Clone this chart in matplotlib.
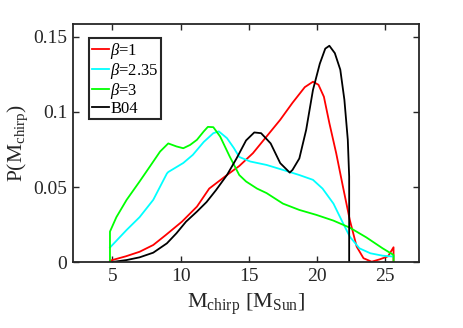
import matplotlib
matplotlib.use("Agg")
import matplotlib.pyplot as plt
import numpy as np

plt.rcParams['font.family'] = ['Liberation Serif', 'DejaVu Serif']
plt.rcParams['mathtext.fontset'] = 'custom'
plt.rcParams['mathtext.rm'] = 'Liberation Serif'
plt.rcParams['mathtext.it'] = 'Liberation Serif:italic'

labels = [r'$\beta$=1', r'$\beta$=2.35', r'$\beta$=3', 'B04']
colors = ['#ff0000', '#00ffff', '#00ff00', '#000000']

red_x = [4.83, 5.0, 6.0, 7.0, 8.0, 8.9, 10.1, 11.2, 12.1, 13.4, 14.3, 15.3, 16.3, 17.3,
         18.2, 19.1, 19.7, 20.1, 20.5, 20.9, 21.4, 21.9, 22.4, 22.9, 23.4, 24.0, 24.6,
         25.2, 25.6, 25.6]
red_y = [0.001, 0.0015, 0.004, 0.007, 0.0115, 0.018, 0.027, 0.037, 0.049, 0.058, 0.064,
         0.0725, 0.0836, 0.0947, 0.106, 0.1164, 0.120, 0.118, 0.110, 0.0925, 0.0725, 0.050,
         0.028, 0.0104, 0.0027, 0.0004, 0.002, 0.004, 0.010, 0.0]

cyan_x = [4.83, 6.05, 7.0, 8.0, 9.0, 9.1, 10.2, 10.9, 11.7, 12.4, 12.8, 13.4, 13.9, 14.3,
          15.1, 16.3, 17.5, 18.7, 19.7, 20.4, 21.2, 21.9, 22.4, 23.1, 23.9, 24.8, 25.6]
cyan_y = [0.0098, 0.0215, 0.030, 0.0415, 0.059, 0.060, 0.066, 0.0714, 0.080, 0.0858, 0.087,
          0.0825, 0.076, 0.070, 0.067, 0.0647, 0.0614, 0.058, 0.0548, 0.049, 0.039, 0.026,
          0.017, 0.0093, 0.006, 0.0044, 0.0038]

green_x = [4.83, 4.83, 5.3, 6.05, 7.0, 7.75, 8.5, 9.1, 9.7, 10.2, 10.7, 11.2, 11.7, 12.0,
           12.4, 12.9, 13.6, 14.3, 14.8, 15.6, 16.3, 17.5, 18.7, 19.95, 21.2, 22.4, 23.6,
           24.8, 25.6, 25.6]
green_y = [0.0, 0.0204, 0.030, 0.0415, 0.0537, 0.0636, 0.0736, 0.079, 0.077, 0.0758, 0.078,
           0.0814, 0.087, 0.090, 0.0898, 0.0836, 0.0703, 0.058, 0.0537, 0.049, 0.046, 0.039,
           0.0348, 0.0315, 0.0277, 0.023, 0.0166, 0.0093, 0.0049, 0.0]

black_x = [4.83, 6.05, 7.0, 8.0, 9.0, 9.7, 10.4, 11.2, 11.9, 12.6, 13.4, 14.1, 14.8, 15.4,
           15.9, 16.6, 17.3, 18.0, 18.2, 18.7, 19.2, 19.7, 20.2, 20.6, 20.9, 21.3, 21.7,
           22.0, 22.25, 22.35, 22.35]
black_y = [0.0, 0.0015, 0.0033, 0.0064, 0.0126, 0.0193, 0.027, 0.0337, 0.040, 0.048, 0.058,
           0.069, 0.081, 0.0863, 0.0858, 0.079, 0.0659, 0.0596, 0.0614, 0.069, 0.088, 0.1146,
           0.132, 0.142, 0.1439, 0.139, 0.128, 0.108, 0.0814, 0.057, 0.0]

xticks = [5, 10, 15, 20, 25]
yticks = [0, 0.05, 0.1, 0.15]
ytick_labels = ['0', '0.05', '0.1', '0.15']

fig = plt.figure(figsize=(4.63, 3.28), dpi=100)
ax = fig.add_axes([0.157, 0.2003, 0.749, 0.7267])

series = [(red_x, red_y), (cyan_x, cyan_y), (green_x, green_y), (black_x, black_y)]
for (xs, ys), c, lab in zip(series, colors, labels):
    ax.plot(xs, ys, color=c, lw=1.3, label=lab)

ax.set_xlim(2.1, 27.5)
ax.set_ylim(0, 0.1584)
ax.set_xticks(xticks)
ax.set_xticklabels([str(t) for t in xticks])
ax.set_yticks(yticks)
ax.set_yticklabels(ytick_labels)
ax.tick_params(direction='in', top=True, right=True, length=4, width=1.0,
               labelsize=14, colors='#262626', pad=4)
for s in ax.spines.values():
    s.set_linewidth(1.3)
    s.set_color('#262626')

ax.set_xlabel(r'M$_{\rm chirp}$ [M$_{\rm Sun}$]', fontsize=16, color='#262626', labelpad=5)
ax.set_ylabel(r'P(M$_{\rm chirp}$)', fontsize=15.5, color='#262626', labelpad=2)

leg = ax.legend(loc='upper left', bbox_to_anchor=(0.048, 0.94), borderaxespad=0,
                fontsize=12, handlelength=1.0, handletextpad=0.1, labelspacing=0.0,
                borderpad=0.15, fancybox=False, framealpha=1)
leg.get_frame().set_edgecolor('#262626')
leg.get_frame().set_linewidth(1.5)

fig.savefig('out.png', dpi=100)
